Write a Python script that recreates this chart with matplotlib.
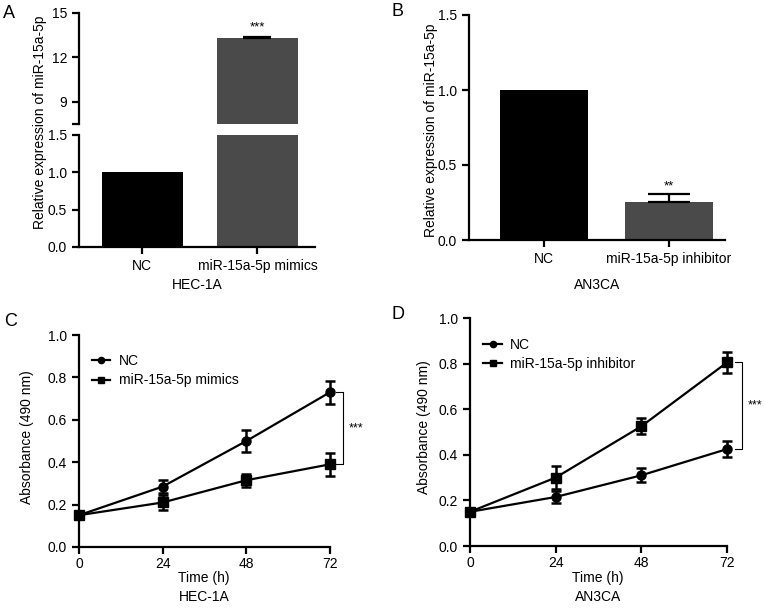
import matplotlib
matplotlib.use("Agg")
import matplotlib.pyplot as plt
from matplotlib.lines import Line2D
import numpy as np

plt.rcParams['font.family'] = ['Liberation Sans', 'DejaVu Sans']
plt.rcParams['font.size'] = 10

# ---- Data ----
a_cats = ["NC", "miR-15a-5p mimics"]
a_vals = [1.0, 13.3]
a_errs = [0.0, 0.06]
b_cats = ["NC", "miR-15a-5p inhibitor"]
b_vals = [1.0, 0.255]
b_errs = [0.0, 0.05]
bar_colors = ["#000000", "#4a4a4a"]

time_h = [0, 24, 48, 72]
c_nc = [0.15, 0.285, 0.50, 0.73]
c_nc_err = [0.01, 0.03, 0.05, 0.055]
c_mim = [0.15, 0.21, 0.315, 0.39]
c_mim_err = [0.01, 0.035, 0.03, 0.055]
d_nc = [0.15, 0.215, 0.31, 0.425]
d_nc_err = [0.01, 0.025, 0.03, 0.035]
d_inh = [0.15, 0.30, 0.525, 0.805]
d_inh_err = [0.01, 0.05, 0.035, 0.045]

W, H = 765, 608
fig = plt.figure(figsize=(W / 100, H / 100), dpi=100)
FS = 10

def px_axes(x0, y_top, x1, y_bot):
    return fig.add_axes([x0 / W, 1 - y_bot / H, (x1 - x0) / W, (y_bot - y_top) / H])

def style(ax, bottom=True):
    for s in ["top", "right"]:
        ax.spines[s].set_visible(False)
    ax.spines["left"].set_linewidth(1.6)
    ax.spines["bottom"].set_linewidth(1.6)
    if not bottom:
        ax.spines["bottom"].set_visible(False)
    ax.tick_params(direction="out", width=1.6, length=5, labelsize=FS)

# ---- Panel A (broken axis) ----
xa = np.arange(len(a_cats))
axA_lo = px_axes(79, 135, 315, 247)
axA_hi = px_axes(79, 13, 315, 124)
for ax in (axA_lo, axA_hi):
    ax.bar(xa, a_vals, width=0.7, color=bar_colors)
    ax.set_xlim(-0.55, 1.5)
axA_hi.errorbar([xa[1]], [a_vals[1]], yerr=[[0], [a_errs[1]]], fmt="none",
                ecolor="black", elinewidth=1.6, capsize=10, capthick=1.6)
axA_lo.set_ylim(0, 1.5)
axA_lo.set_yticks([0, 0.5, 1.0, 1.5])
axA_lo.set_yticklabels(["0.0", "0.5", "1.0", "1.5"])
axA_hi.set_ylim(7.5, 15)
axA_hi.set_yticks([7.5, 9, 12, 15])
axA_hi.set_yticklabels(["", "9", "12", "15"])
style(axA_lo)
style(axA_hi, bottom=False)
axA_hi.set_xticks([])
axA_lo.set_xticks(xa)
axA_lo.set_xticklabels(a_cats)
axA_lo.set_xlabel("HEC-1A", fontsize=FS, labelpad=4)
axA_hi.text(xa[1], a_vals[1] + 0.35, "***", ha="center", va="bottom", fontsize=9.5)
fig.text(40 / W, 1 - 122 / H, "Relative expression of miR-15a-5p", rotation=90,
         ha="center", va="center", fontsize=FS)

# ---- Panel B ----
xb = np.arange(len(b_cats))
axB = px_axes(469, 15, 725, 240)
axB.bar(xb, b_vals, width=0.7, color=bar_colors)
axB.errorbar([xb[1]], [b_vals[1]], yerr=[[0], [b_errs[1]]], fmt="none",
             ecolor="black", elinewidth=1.6, capsize=15, capthick=1.6)
axB.set_xlim(-0.6, 1.45)
axB.set_ylim(0, 1.5)
axB.set_yticks([0, 0.5, 1.0, 1.5])
axB.set_yticklabels(["0.0", "0.5", "1.0", "1.5"])
axB.set_xticks(xb)
axB.set_xticklabels(b_cats)
style(axB)
axB.set_xlabel("AN3CA", fontsize=FS, labelpad=9)
axB.text(xb[1], b_vals[1] + b_errs[1] + 0.01, "**", ha="center", va="bottom", fontsize=9.5)
fig.text(431 / W, 1 - 130 / H, "Relative expression of miR-15a-5p", rotation=90,
         ha="center", va="center", fontsize=FS)

# ---- Line panels ----
def line_panel(ax, y1, e1, y2, e2, lab1, lab2, brk_x, upper, lower):
    for y, e, m in [(y1, e1, "o"), (y2, e2, "s")]:
        ax.errorbar(time_h, y, yerr=e, fmt="none", ecolor="black",
                    elinewidth=1.8, capsize=3.5, capthick=1.8, clip_on=False)
        ax.plot(time_h, y, color="black", marker=m, markersize=6.5, lw=1.6,
                clip_on=False)
    ax.set_xlim(0, 72)
    ax.set_ylim(0, 1.0)
    ax.set_xticks(time_h)
    ax.set_yticks([0, 0.2, 0.4, 0.6, 0.8, 1.0])
    ax.set_yticklabels(["0.0", "0.2", "0.4", "0.6", "0.8", "1.0"])
    style(ax)
    ax.tick_params(axis="x", pad=2)
    ax.set_ylabel("Absorbance (490 nm)", fontsize=FS)
    handles = [Line2D([], [], color="black", marker="o", markersize=4.5, lw=1.6),
               Line2D([], [], color="black", marker="s", markersize=4.5, lw=1.6)]
    ax.legend(handles, [lab1, lab2], loc="upper left", bbox_to_anchor=(0.02, 0.95),
              frameon=False, fontsize=FS, handlelength=1.3, handletextpad=0.6,
              labelspacing=0.4, borderaxespad=0.2)
    # significance bracket
    ax.plot([brk_x - 2, brk_x, brk_x, brk_x - 2], [upper, upper, lower, lower],
            color="black", lw=0.8, clip_on=False)
    ax.text(brk_x + 1.5, (upper + lower) / 2, "***", ha="left", va="center", fontsize=9)

axC = px_axes(79, 335, 330, 547)
line_panel(axC, c_nc, c_nc_err, c_mim, c_mim_err, "NC", "miR-15a-5p mimics",
           75.8, 0.73, 0.39)
axC.yaxis.set_label_coords(-0.18, 0.52)
fig.text(204 / W, 1 - 578 / H, "Time (h)", ha="center", va="center", fontsize=FS)
fig.text(204 / W, 1 - 597 / H, "HEC-1A", ha="center", va="center", fontsize=FS)

axD = px_axes(470, 318, 727, 546)
line_panel(axD, d_nc, d_nc_err, d_inh, d_inh_err, "NC", "miR-15a-5p inhibitor",
           76.2, 0.805, 0.425)
axD.yaxis.set_label_coords(-0.15, 0.52)
fig.text(598 / W, 1 - 578 / H, "Time (h)", ha="center", va="center", fontsize=FS)
fig.text(598 / W, 1 - 597 / H, "AN3CA", ha="center", va="center", fontsize=FS)

# ---- Panel letters ----
for lab, x, y in [("A", 3, 5), ("B", 392, 3), ("C", 4, 313), ("D", 392, 306)]:
    fig.text(x / W, 1 - y / H, lab, ha="left", va="top", fontsize=13)

fig.savefig("out.png", dpi=100)
